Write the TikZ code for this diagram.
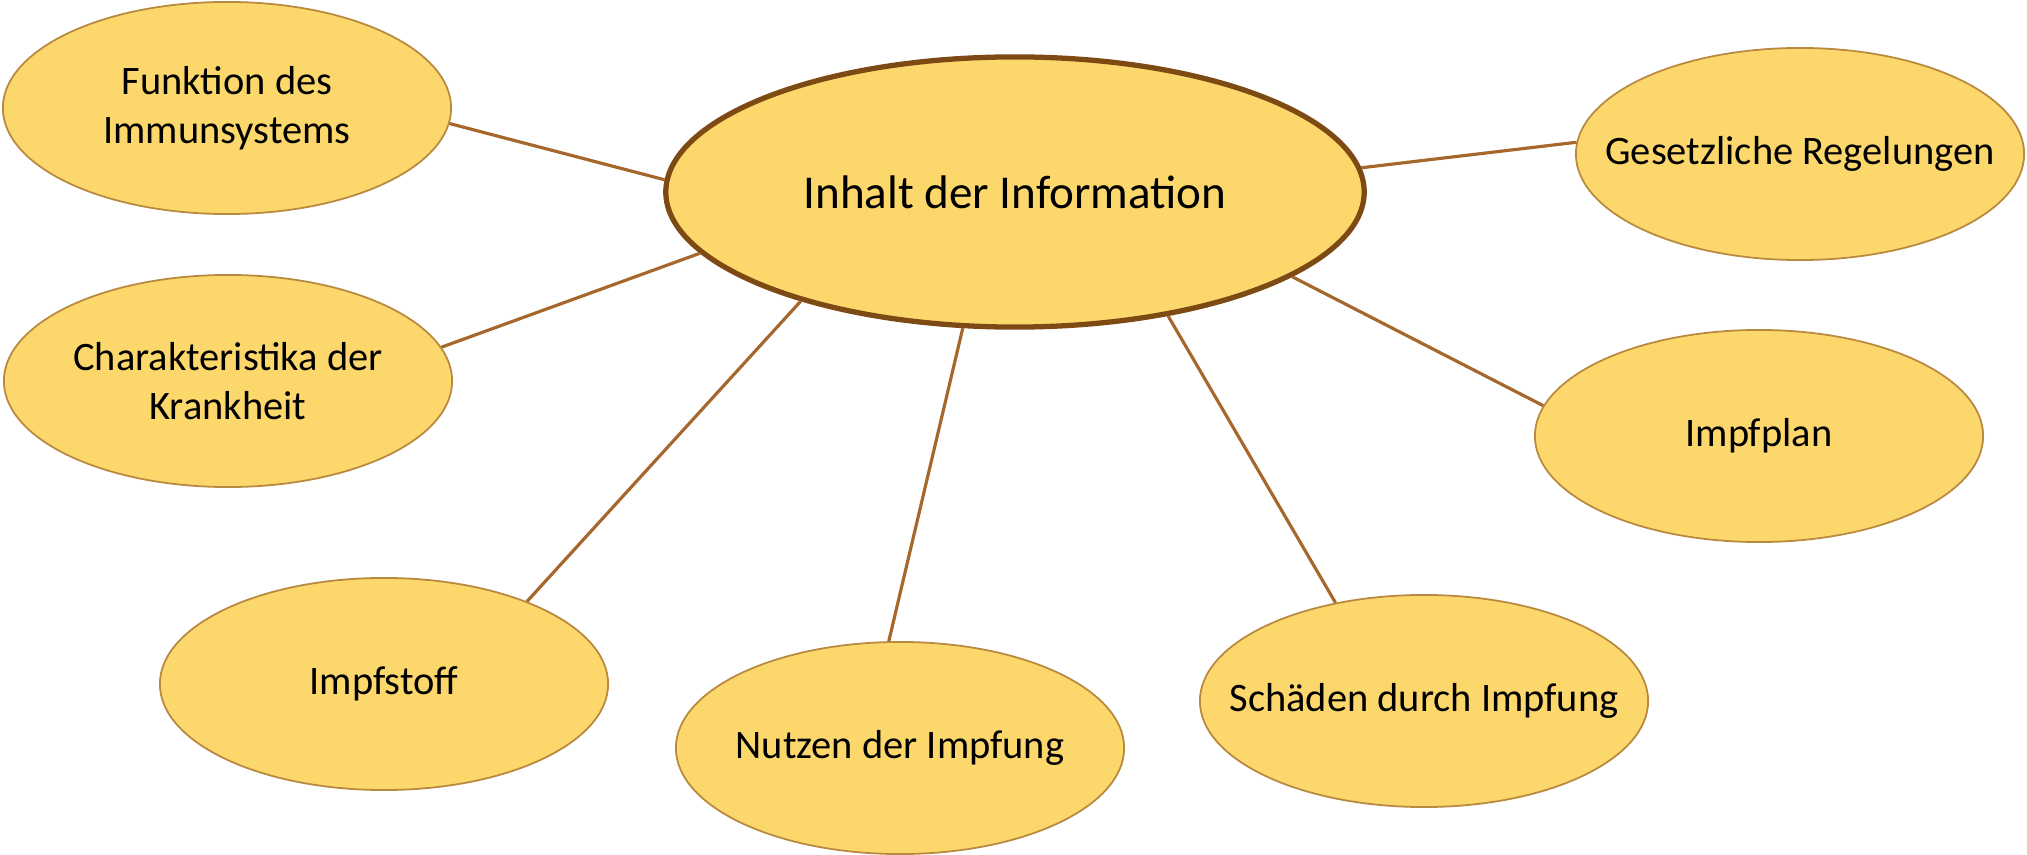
\documentclass[tikz,border=0pt]{standalone}
\usepackage{fontspec}
\setmainfont{Carlito}
\usepackage{tikz}
\usetikzlibrary{shapes.geometric}

\definecolor{bubblefill}{HTML}{FCD76C}
\definecolor{bubbleline}{HTML}{B8893E}
\definecolor{hubline}{HTML}{7E4A14}
\definecolor{linkline}{HTML}{A5672C}

\begin{document}
\begin{tikzpicture}[x=0.01cm,y=-0.01cm,
   bubble/.style={ellipse,draw=bubbleline,line width=0.5pt,fill=bubblefill,inner sep=0pt,
     minimum width=4.48cm,minimum height=2.12cm},
   hub/.style={bubble,draw=hubline,line width=1.5pt,minimum width=6.98cm,minimum height=2.7cm},
   txt/.style={align=center,font=\fontsize{11.5}{14}\selectfont},
   hubtxt/.style={align=center,font=\fontsize{13.4}{16}\selectfont},
   link/.style={draw=linkline,line width=0.9pt}]
\useasboundingbox (0,0) rectangle (2027,855);
% centre
\node[hub,label={[hubtxt]center:Inhalt der Information}] (inhalt) at (1015,192) {};
% left side
\node[bubble,label={[txt]center:Funktion des\\Immunsystems}] (immun) at (227,108) {};
\node[bubble,label={[txt]center:Charakteristika der\\Krankheit}] (krank) at (228,381) {};
\node[bubble,label={[txt]center:Impfstoff}] (stoff) at (384,684) {};
% bottom
\node[bubble,label={[txt]center:Nutzen der Impfung}] (nutzen) at (900,748) {};
\node[bubble,label={[txt]center:Schäden durch Impfung}] (schaden) at (1424,701) {};
% right side
\node[bubble,label={[txt]center:Impfplan}] (plan) at (1759,436) {};
\node[bubble,label={[txt]center:Gesetzliche Regelungen}] (gesetz) at (1800,154) {};
% links
\draw[link] (immun.356) -- (inhalt.178.9);
\draw[link] (krank.9.6) -- (inhalt.191.2);
\draw[link] (stoff.30.2) -- (inhalt.207.7);
\draw[link] (nutzen.96) -- (inhalt.249.4);
\draw[link] (schaden.132) -- (inhalt.321.7);
\draw[link] (plan.172.4) -- (inhalt.343.4);
\draw[link] (gesetz.177.7) -- (inhalt.4.1);
\end{tikzpicture}
\end{document}
